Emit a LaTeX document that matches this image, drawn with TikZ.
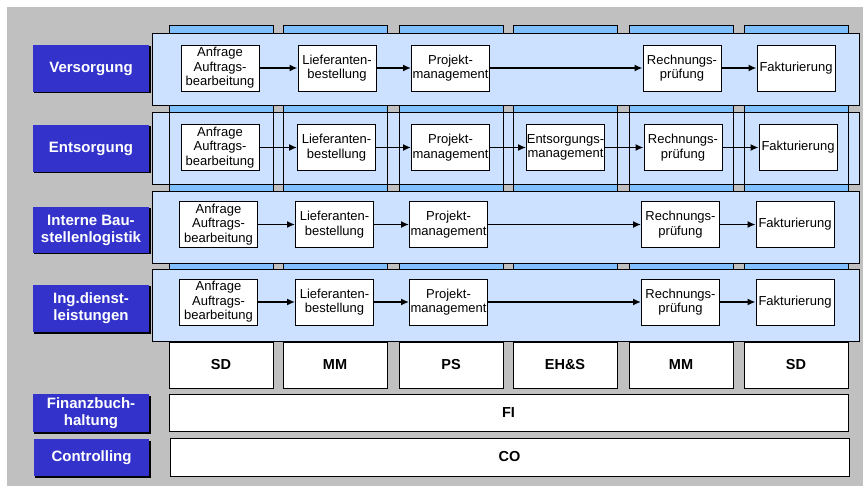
\documentclass[tikz,border=0pt]{standalone}
\usepackage{fontspec}
\setmainfont{Liberation Sans}
\usetikzlibrary{arrows.meta,shadows}
\definecolor{bggray}{HTML}{C0C0C0}
\definecolor{rowblue}{HTML}{CCE0FF}
\definecolor{colblue}{HTML}{80C0FF}
\definecolor{lblblue}{HTML}{3333CC}
\begin{document}
\begin{tikzpicture}[x=1bp,y=-1bp,
  procbox/.style={draw=black, line width=0.9bp, fill=white, minimum width=78bp, minimum height=46bp,
    inner sep=0pt, align=center, font=\fontsize{13bp}{14.5bp}\selectfont},
  lanelabel/.style={fill=lblblue, text=white, minimum width=116bp, inner sep=0pt, align=center,
    font=\bfseries\fontsize{15bp}{17bp}\selectfont,
    drop shadow={opacity=1, fill=black, shadow xshift=1.5bp, shadow yshift=-1.5bp}},
  modbox/.style={draw=black, line width=0.9bp, fill=white, inner sep=0pt,
    font=\bfseries\fontsize{14.5bp}{17bp}\selectfont,
    drop shadow={opacity=1, fill=black!60, shadow xshift=1bp, shadow yshift=-1bp}},
  lanebox/.style={draw=black, line width=0.9bp, fill=rowblue},
  arr/.style={-{Latex[length=8bp,width=7bp]}, line width=1.6bp}]
\useasboundingbox (0,0) rectangle (863,486);
\fill[white] (0,0) rectangle (863,486);
\fill[bggray] (7,7) rectangle (863,486);
% columns
\foreach \x in {169,283,399,513,629,744} \filldraw[fill=colblue, draw=black, line width=0.9bp] (\x,25) rectangle ++(104,317);
% row 2 (beneath column outlines)
\node[lanebox, minimum width=707bp, minimum height=72bp, inner sep=0pt] (rowE) at (505.5,148) {};
\foreach \x in {169,283,399,513,629,744} \draw[black, line width=0.9bp] (\x,25) rectangle ++(104,317);
% rows 1,3,4
\node[lanebox, minimum width=707bp, minimum height=72bp, inner sep=0pt] (rowV) at (505.5,69) {};
\node[lanebox, minimum width=707bp, minimum height=72bp, inner sep=0pt] (rowI) at (505.5,227) {};
\node[lanebox, minimum width=707bp, minimum height=72bp, inner sep=0pt] (rowG) at (505.5,305) {};
% lane labels
\node[lanelabel, minimum height=47bp] (lV) at (91,68.5) {Versorgung};
\node[lanelabel, minimum height=47bp] (lE) at (91,148.5) {Entsorgung};
\node[lanelabel, minimum height=46bp] (lI) at (91,230) {Interne Bau-\\stellenlogistik};
\node[lanelabel, minimum height=47bp] (lG) at (91,308.5) {Ing.dienst-\\leistungen};
\node[lanelabel, minimum height=38bp] (lF) at (91,413) {Finanzbuch-\\haltung};
\node[lanelabel, minimum height=37bp, minimum width=115bp] (lC) at (91.5,457.5) {Controlling};
% row 1
\node[procbox] (v1) at (220,68) {Anfrage\\Auftrags-\\bearbeitung};
\node[procbox] (v2) at (337,68) {Lieferanten-\\bestellung};
\node[procbox] (v3) at (450.5,68) {Projekt-\\management};
\node[procbox] (v4) at (682,68) {Rechnungs-\\prüfung};
\node[procbox] (v5) at (796,68) {Fakturierung};
% row 2
\node[procbox] (e1) at (220,147.5) {Anfrage\\Auftrags-\\bearbeitung};
\node[procbox] (e2) at (336.5,147.5) {Lieferanten-\\bestellung};
\node[procbox] (e3) at (450.5,147.5) {Projekt-\\management};
\node[procbox] (e4) at (565.5,147.5) {Entsorgungs-\\management};
\node[procbox] (e5) at (683,147.5) {Rechnungs-\\prüfung};
\node[procbox] (e6) at (798,147.5) {Fakturierung};
% row 3
\node[procbox] (i1) at (218.5,224.5) {Anfrage\\Auftrags-\\bearbeitung};
\node[procbox] (i2) at (334.5,224.5) {Lieferanten-\\bestellung};
\node[procbox] (i3) at (448.5,224.5) {Projekt-\\management};
\node[procbox] (i4) at (680.5,224.5) {Rechnungs-\\prüfung};
\node[procbox] (i5) at (795,224.5) {Fakturierung};
% row 4
\node[procbox] (g1) at (218.5,302) {Anfrage\\Auftrags-\\bearbeitung};
\node[procbox] (g2) at (334.5,302) {Lieferanten-\\bestellung};
\node[procbox] (g3) at (448.5,302) {Projekt-\\management};
\node[procbox] (g4) at (680.5,302) {Rechnungs-\\prüfung};
\node[procbox] (g5) at (795,302) {Fakturierung};
% arrows
\draw[arr] (v1) -- (v2); \draw[arr] (v2) -- (v3); \draw[arr] (v3) -- (v4); \draw[arr] (v4) -- (v5);
\draw[arr] (e1) -- (e2); \draw[arr] (e2) -- (e3); \draw[arr] (e3) -- (e4); \draw[arr] (e4) -- (e5); \draw[arr] (e5) -- (e6);
\draw[arr] (i1) -- (i2); \draw[arr] (i2) -- (i3); \draw[arr] (i3) -- (i4); \draw[arr] (i4) -- (i5);
\draw[arr] (g1) -- (g2); \draw[arr] (g2) -- (g3); \draw[arr] (g3) -- (g4); \draw[arr] (g4) -- (g5);
% module boxes
\node[modbox, minimum width=104bp, minimum height=46bp] (m1) at (221,365) {SD};
\node[modbox, minimum width=104bp, minimum height=46bp] (m2) at (335,365) {MM};
\node[modbox, minimum width=104bp, minimum height=46bp] (m3) at (451,365) {PS};
\node[modbox, minimum width=104bp, minimum height=46bp] (m4) at (565,365) {EH\&S};
\node[modbox, minimum width=104bp, minimum height=46bp] (m5) at (681,365) {MM};
\node[modbox, minimum width=104bp, minimum height=46bp] (m6) at (796,365) {SD};
\node[modbox, minimum width=679bp, minimum height=37bp] (fi) at (508.5,412.5) {FI};
\node[modbox, minimum width=679bp, minimum height=38bp] (co) at (509.5,457) {CO};
\end{tikzpicture}
\end{document}
